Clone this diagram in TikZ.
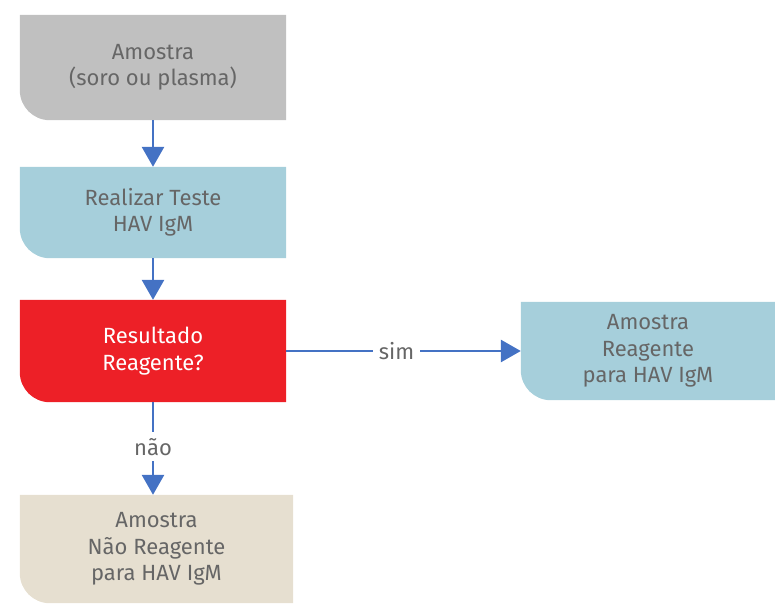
\documentclass[tikz,border=0pt]{standalone}
\usepackage{fontspec}
\setmainfont{Fira Sans}
\usetikzlibrary{arrows.meta,backgrounds}

\definecolor{boxgray}{HTML}{C0C0C0}
\definecolor{boxblue}{HTML}{A6CFDB}
\definecolor{boxred}{HTML}{ED2027}
\definecolor{boxsand}{HTML}{E6DFD0}
\definecolor{flowblue}{HTML}{4472C4}
\definecolor{txtgray}{HTML}{666666}

\tikzset{
  stepbox/.style={rectangle, inner sep=0pt, align=center, text=txtgray,
    font=\fontsize{22}{26.5}\selectfont},
  flow/.style={draw=flowblue, line width=2.8pt, -{Triangle[width=22pt,length=20pt]}},
  flowlabel/.style={fill=white, text=txtgray, font=\fontsize{22}{26}\selectfont, inner sep=6pt}
}

\begin{document}
\begin{tikzpicture}[x=1pt, y=-1pt]
\useasboundingbox (0,0) rectangle (775,603);

\node[stepbox, minimum width=266pt, minimum height=105pt] (amostra) at (153,67.5) {Amostra\\(soro ou plasma)};
\node[stepbox, minimum width=266pt, minimum height=91pt] (teste) at (153,212.5) {Realizar Teste\\HAV IgM};
\node[stepbox, minimum width=266pt, minimum height=102pt, text=white] (result) at (153,351) {Resultado\\Reagente?};
\node[stepbox, minimum width=254pt, minimum height=98pt] (reag) at (648,351) {Amostra\\Reagente\\para HAV IgM};
\node[stepbox, minimum width=273pt, minimum height=108pt] (naoreag) at (156.5,549) {Amostra\\Não Reagente\\para HAV IgM};

% box backgrounds, only the lower left corner is rounded
\begin{scope}[on background layer]
\foreach \n/\c in {amostra/boxgray, teste/boxblue, result/boxred, reag/boxblue, naoreag/boxsand}
  \fill[\c] (\n.north west) -- (\n.north east) -- (\n.south east)
    -- ([xshift=30pt]\n.south west) arc[start angle=270, end angle=180, radius=30pt]
    -- cycle;
\end{scope}

\draw[flow] (amostra.south) -- (teste.north);
\draw[flow] (teste.south) -- (result.north);
\draw[flow] (result.east) -- node[flowlabel, pos=0.47] {sim} (reag.west);
\draw[flow] (result.south) -- node[flowlabel, pos=0.48] {não} (result.south |- naoreag.north);
\end{tikzpicture}
\end{document}
